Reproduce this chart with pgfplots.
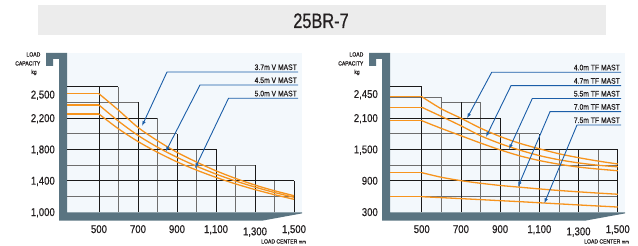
\documentclass[border=0pt]{standalone}
\usepackage{fontspec}
\setmainfont{Liberation Sans}[FakeStretch=0.85,FakeBold=0.5]
\newfontfamily\titlefont{Liberation Sans}[FakeStretch=0.78,FakeBold=0.6]
\usepackage{pgfplots}
\pgfplotsset{compat=1.18}
\usetikzlibrary{arrows.meta}
\definecolor{barc}{HTML}{5A7481}
\definecolor{panel}{HTML}{F3F8FC}
\definecolor{titlebg}{HTML}{ECECEC}
\definecolor{orng}{HTML}{F7941D}
\definecolor{arrowblue}{HTML}{1B5EA8}
\definecolor{txt}{HTML}{231F20}
\definecolor{gridgray}{HTML}{6E6E6E}
\definecolor{gridblack}{HTML}{1A1A1A}

\pgfplotsset{
  chartstyle/.style={
    anchor=south west, scale only axis, width=235bp, height=159bp,
    axis line style={draw=none}, tick style={draw=none},
    clip=false, unbounded coords=jump,
    xtick={500,700,900,1100,1300,1500},
    xticklabels={500,700,900,{1,100},{\raisebox{-2.3bp}{1,300}},{1,500}},
    xticklabel style={anchor=base, yshift=-21bp, inner sep=0pt, font=\fontsize{11.3}{12}\selectfont, text=txt},
    yticklabel style={anchor=base east, xshift=-12bp, yshift=-4bp, inner sep=0pt, font=\fontsize{11.3}{12}\selectfont, text=txt},
  },
  gb/.style={gridblack, line width=0.9bp},
  gg/.style={gridgray, line width=0.9bp},
  cv/.style={orng, line width=1.3bp},
}

\begin{document}
\begin{tikzpicture}
\path[use as bounding box] (0,0) rectangle (638bp,246bp);
\begin{scope}[x=1bp,y=-1bp,yshift=246bp]
  \fill[titlebg] (38,5) rectangle (606,35);
  \node[font=\titlefont\fontsize{21}{21}\selectfont, text=txt, inner sep=0pt, anchor=base] at (321,28) {25BR-7};
  \foreach \dx in {0,323} {
    \fill[panel] (67+\dx,53) rectangle (302+\dx,212.7);
    \fill[barc] (46+\dx,53) -- (67+\dx,53) -- (67+\dx,212.4) -- (302+\dx,212.4) -- (302+\dx,213.4)
      -- (262+\dx,220.7) -- (59+\dx,220.7) -- (59+\dx,59) -- (53+\dx,59) -- (53+\dx,66) -- (46+\dx,66) -- cycle;
    \node[anchor=base east, inner sep=0pt, font=\fontsize{6}{6}\selectfont, text=txt] at (40.5+\dx,56.5) {LOAD};
    \node[anchor=base east, inner sep=0pt, font=\fontsize{6}{6}\selectfont, text=txt] at (40.5+\dx,65.5) {CAPACITY};
    \node[anchor=base, inner sep=0pt, font=\fontsize{6}{6}\selectfont, text=txt] at (34+\dx,74) {kg};
    \node[anchor=base east, inner sep=0pt, font=\fontsize{6}{6}\selectfont, text=txt] at (306+\dx,243.5) {LOAD CENTER {\fontsize{5}{5}\selectfont mm}};
  }
\end{scope}

% ---------------- left chart ----------------
\begin{axis}[chartstyle, at={(67bp,34bp)},
  xmin=336, xmax=1541, ymin=1000, ymax=3030,
  ytick={1000,1400,1800,2200,2500},
  yticklabels={{1,000},{1,400},{1,800},{2,200},{2,500}}]
\addplot[gg] coordinates {(600,1000)(600,2600)(600,nan)(800,1000)(800,2200)(800,nan)(1000,1000)(1000,1800)(1000,nan)(1200,1000)(1200,1600)(1200,nan)(1400,1000)(1400,1400)
  (1400,nan)(336,1200)(1500,1200)(1500,nan)(336,1600)(1300,1600)(1300,nan)(336,2000)(900,2000)(900,nan)(336,2400)(700,2400)};
\addplot[gb] coordinates {(500,1000)(500,2600)(500,nan)(700,1000)(700,2400)(700,nan)(900,1000)(900,2000)(900,nan)(1100,1000)(1100,1800)(1100,nan)(1300,1000)(1300,1600)(1300,nan)(1500,1000)(1500,1400)
  (1500,nan)(336,1400)(1500,1400)(1500,nan)(336,1800)(1100,1800)(1100,nan)(336,2200)(800,2200)(800,nan)(336,2600)(600,2600)};
% 3.7m V MAST
\addplot[cv] coordinates {(336,2510)(500,2510)};
\addplot[cv, smooth] coordinates {(500,2510)(600,2300)(700,2080)(800,1910)(900,1762)(1000,1638)(1100,1526)(1200,1429)(1300,1344)(1400,1271)(1500,1208)};
% 4.5m V MAST
\addplot[cv] coordinates {(336,2366)(500,2366)};
\addplot[cv, smooth] coordinates {(500,2366)(600,2160)(700,1978)(800,1828)(900,1698)(1000,1585)(1100,1484)(1200,1396)(1300,1318)(1400,1249)(1500,1188)};
% 5.0m V MAST
\addplot[cv] coordinates {(336,2251)(500,2251)};
\addplot[cv, smooth] coordinates {(500,2251)(600,2062)(700,1900)(800,1762)(900,1640)(1000,1535)(1100,1442)(1200,1359)(1300,1286)(1400,1221)(1500,1162)};
\end{axis}

% ---------------- right chart ----------------
\begin{axis}[chartstyle, at={(390bp,34bp)},
  xmin=338, xmax=1537, ymin=300, ymax=3344,
  ytick={300,900,1500,2100,2560},
  yticklabels={300,900,{1,500},{2,100},{2,450}}]
\addplot[gg] coordinates {(600,300)(600,2500)(600,nan)(800,300)(800,2400)(800,nan)(1000,300)(1000,1800)(1000,nan)(1200,300)(1200,1500)(1200,nan)(1400,300)(1400,1500)
  (1400,nan)(338,600)(1500,600)(1500,nan)(338,1200)(1500,1200)(1500,nan)(338,1800)(1100,1800)(1100,nan)(600,2400)(800,2400)(800,nan)(338,2500)(600,2500)};
\addplot[gb] coordinates {(500,300)(500,2700)(500,nan)(700,300)(700,2400)(700,nan)(900,300)(900,2100)(900,nan)(1100,300)(1100,1800)(1100,nan)(1300,300)(1300,1500)(1300,nan)(1500,300)(1500,1500)
  (1500,nan)(338,900)(1500,900)(1500,nan)(338,1500)(1500,1500)(1500,nan)(338,2100)(900,2100)(900,nan)(338,2700)(500,2700)};
% 4.0m TF MAST
\addplot[cv] coordinates {(338,2508)(500,2508)};
\addplot[cv, smooth] coordinates {(500,2508)(600,2275)(700,2095)(800,1905)(900,1745)(1000,1615)(1100,1510)(1200,1415)(1300,1340)(1400,1275)(1500,1219)};
% 4.7m TF MAST
\addplot[cv] coordinates {(338,2305)(500,2305)};
\addplot[cv, smooth] coordinates {(500,2305)(600,2130)(700,1950)(800,1760)(900,1610)(1000,1485)(1100,1380)(1200,1300)(1300,1240)(1400,1195)(1500,1165)};
% 5.5m TF MAST
\addplot[cv] coordinates {(338,2048)(500,2048)};
\addplot[cv, smooth] coordinates {(500,2048)(600,1900)(700,1760)(800,1620)(900,1490)(1000,1375)(1100,1285)(1200,1215)(1300,1160)(1400,1122)(1500,1090)};
% 7.0m TF MAST
\addplot[cv] coordinates {(338,1053)(500,1053)};
\addplot[cv, smooth] coordinates {(500,1053)(600,965)(700,900)(800,850)(900,808)(1000,775)(1100,742)(1200,712)(1300,686)(1400,662)(1500,640)};
% 7.5m TF MAST
\addplot[cv] coordinates {(338,593)(500,593)};
\addplot[cv, smooth] coordinates {(500,593)(600,575)(700,556)(800,537)(900,517)(1000,498)(1100,477)(1200,456)(1300,435)(1400,415)(1500,395)};
\end{axis}

% ---------------- annotations ----------------
\begin{scope}[x=1bp,y=-1bp,yshift=246bp]
  \tikzset{lead/.style={arrowblue, line width=0.9bp, -{Latex[length=5bp,width=3.6bp]}},
           lab/.style={anchor=base east, inner sep=0pt, font=\fontsize{8}{8}\selectfont, text=txt}}
  \draw[lead] (298,72) -- (167,72) -- (142,126);
  \draw[lead] (298,85) -- (200,85) -- (165.7,151.7);
  \draw[lead] (298,98.3) -- (228.5,98.3) -- (195,168.3);
  \node[lab] at (297,70) {3.7m V MAST};
  \node[lab] at (297,83) {4.5m V MAST};
  \node[lab] at (297,96.3) {5.0m V MAST};

  \draw[lead] (621,72.3) -- (491.7,72.3) -- (467,118.3);
  \draw[lead] (621,85.7) -- (511,85.7) -- (486,137);
  \draw[lead] (621,98.5) -- (532.3,98.5) -- (509,149.3);
  \draw[lead] (621,111.7) -- (550,111.7) -- (518,186.7);
  \draw[lead] (621,125) -- (577,125) -- (544.3,203.3);
  \node[lab] at (620,70.3) {4.0m TF MAST};
  \node[lab] at (620,83.7) {4.7m TF MAST};
  \node[lab] at (620,96.5) {5.5m TF MAST};
  \node[lab] at (620,109.7) {7.0m TF MAST};
  \node[lab] at (620,123) {7.5m TF MAST};
\end{scope}
\end{tikzpicture}
\end{document}
